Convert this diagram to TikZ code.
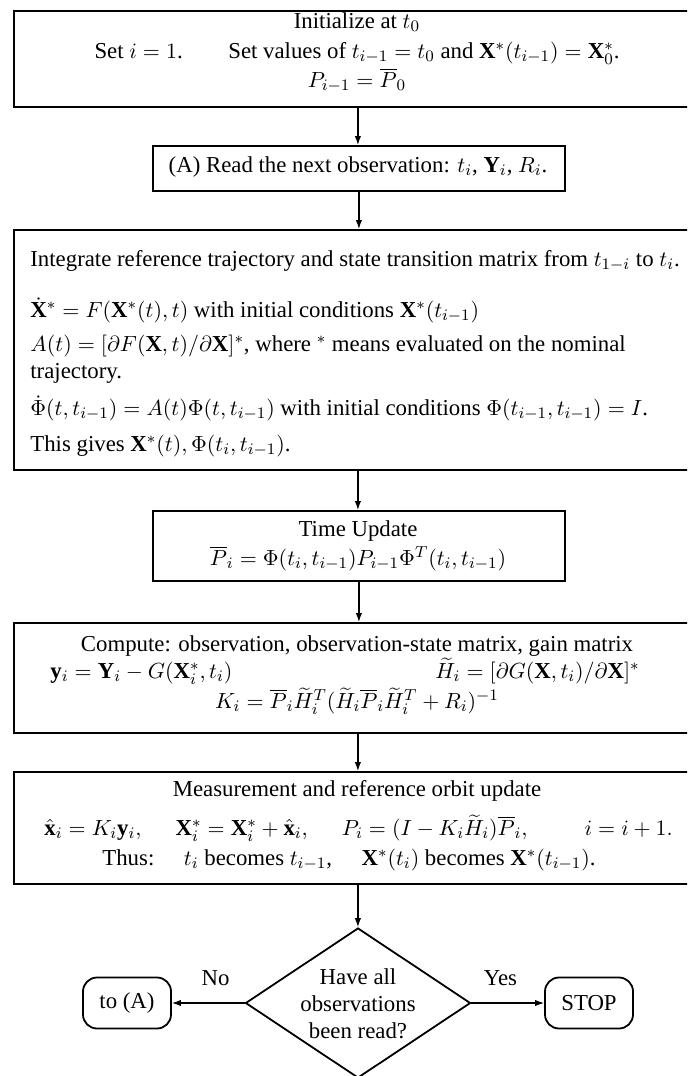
\documentclass[tikz,border=0pt]{standalone}
\usepackage{fontspec}
\setmainfont{Liberation Serif}
\usetikzlibrary{shapes.geometric,arrows.meta}
\begin{document}
\begin{tikzpicture}[x=0.5pt,y=-0.5pt,
  font=\fontsize{11.4}{13.5}\selectfont,
  box/.style={draw,line width=0.9pt,inner sep=0pt,anchor=north west},
  txt/.style={inner sep=0pt,anchor=mid},
  ltxt/.style={inner sep=0pt,anchor=mid west},
  rtxt/.style={inner sep=0pt,anchor=mid east},
  arr/.style={line width=0.6pt,-{Latex[length=4.5pt,width=3.2pt]}},
  term/.style={draw,line width=0.9pt,rounded corners=7pt,minimum width=44pt,minimum height=25.5pt,inner sep=0pt},
  decision/.style={draw,line width=0.9pt,diamond,minimum width=112.5pt,minimum height=75pt,inner sep=0pt}]
\useasboundingbox (0,0) rectangle (687,1076);
\clip (0,0) rectangle (687,1076);
% boxes
\node[box,minimum width=344pt,minimum height=48pt] (b1) at (13,10) {};
\node[box,minimum width=206pt,minimum height=22.5pt] (bA) at (152,145) {};
\node[box,minimum width=344pt,minimum height=120pt] (b3) at (13,229) {};
\node[box,minimum width=206pt,minimum height=35pt] (bT) at (152,510) {};
\node[box,minimum width=344pt,minimum height=55pt] (bC) at (13,622) {};
\node[box,minimum width=344pt,minimum height=56pt] (bM) at (13,771) {};
\node[decision] (dq) at (358,1003) {};
\node[term] (toA) at (127,1003) {to (A)};
\node[term] (stop) at (589,1003) {STOP};
% texts box 1
\node[txt] (t11) at (357,24) {Initialize at $t_0$};
\node[txt] (t12) at (357,54) {Set $i=1$.\hspace{2em}Set values of $t_{i-1}=t_0$ and $\mathbf{X}^*(t_{i-1})=\mathbf{X}_0^*$.};
\node[txt] (t13) at (357,83) {$P_{i-1}=\overline{P}_0$};
% box A
\node[txt] (tA) at (358,168) {(A) Read the next observation: $t_i$, $\mathbf{Y}_i$, $R_i$.};
% box 3
\node[ltxt] (t31) at (30,262) {Integrate reference trajectory and state transition matrix from $t_{1-i}$ to $t_i$.};
\node[ltxt] (t32) at (30,313) {$\dot{\mathbf{X}}^*=F(\mathbf{X}^*(t),t)$ with initial conditions $\mathbf{X}^*(t_{i-1})$};
\node[ltxt] (t33) at (30,347) {$A(t)=[\partial F(\mathbf{X},t)/\partial\mathbf{X}]^*$, where ${}^*$ means evaluated on the nominal};
\node[ltxt] (t34) at (30,374) {trajectory.};
\node[ltxt] (t35) at (30,411) {$\dot{\Phi}(t,t_{i-1})=A(t)\Phi(t,t_{i-1})$ with initial conditions $\Phi(t_{i-1},t_{i-1})=I$.};
\node[ltxt] (t36) at (30,447) {This gives $\mathbf{X}^*(t),\Phi(t_i,t_{i-1})$.};
% time update
\node[txt] (tT1) at (358,532) {Time Update};
\node[txt] (tT2) at (358,561) {$\overline{P}_i=\Phi(t_i,t_{i-1})P_{i-1}\Phi^T(t_i,t_{i-1})$};
% compute
\node[txt] (tC1) at (357,647) {Compute: observation, observation-state matrix, gain matrix};
\node[ltxt] (tC2) at (50,674) {$\mathbf{y}_i=\mathbf{Y}_i-G(\mathbf{X}_i^*,t_i)$};
\node[rtxt] (tC3) at (640,674) {$\widetilde{H}_i=[\partial G(\mathbf{X},t_i)/\partial\mathbf{X}]^*$};
\node[txt] (tC4) at (357,704) {$K_i=\overline{P}_i\widetilde{H}_i^T(\widetilde{H}_i\overline{P}_i\widetilde{H}_i^T+R_i)^{-1}$};
% measurement
\node[txt] (tM1) at (357,792) {Measurement and reference orbit update};
\node[ltxt] (tM2) at (44,831) {$\hat{\mathbf{x}}_i=K_i\mathbf{y}_i,$\hspace{1.5em}$\mathbf{X}_i^*=\mathbf{X}_i^*+\hat{\mathbf{x}}_i,$\hspace{1.5em}$P_i=(I-K_i\widetilde{H}_i)\overline{P}_i,$\hspace{2.5em}$i=i+1.$};
\node[ltxt] (tM3) at (102,861) {Thus:\hspace{1.3em}$t_i$ becomes $t_{i-1}$,\hspace{1.3em}$\mathbf{X}^*(t_i)$ becomes $\mathbf{X}^*(t_{i-1})$.};
% diamond text
\node[inner sep=0pt,anchor=center,align=center] (tq) at (358,1004) {Have all\\observations\\been read?};
% arrows
\draw[arr] (b1.south) -- (b1.south |- bA.north);
\draw[arr] (bA.south) -- (bA.south |- b3.north);
\draw[arr] (b3.south) -- (b3.south |- bT.north);
\draw[arr] (bT.south) -- (bT.south |- bC.north);
\draw[arr] (bC.south) -- (bC.south |- bM.north);
\draw[arr] (bM.south) -- (bM.south |- dq.north);
\draw[arr] (dq.west) -- node[pos=0.4,above=5pt] (no) {No} (toA.east);
\draw[arr] (dq.east) -- node[pos=0.4,above=5pt] (yes) {Yes} (stop.west);
\end{tikzpicture}
\end{document}
